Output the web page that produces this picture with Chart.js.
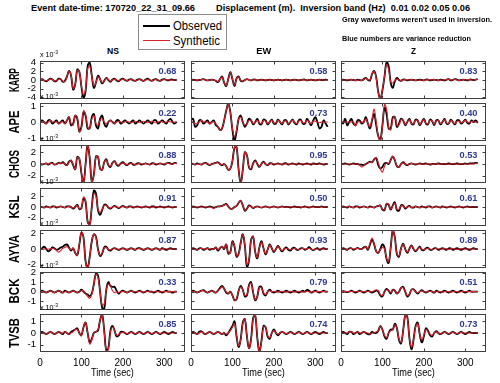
<!DOCTYPE html>
<html>
<head>
<meta charset="utf-8">
<script src="https://cdn.jsdelivr.net/npm/chart.js@4.4.1/dist/chart.umd.min.js"></script>
<style>
  html, body { margin: 0; padding: 0; background: #fff; }
  #fig { position: relative; width: 500px; height: 383px; overflow: hidden;
         font-family: 'Liberation Sans', Arial, sans-serif; color: #000; }
  #fig canvas { position: absolute; }
  .txt { position: absolute; white-space: nowrap; line-height: 1; }
  .txt sup { font-size: 70%; vertical-align: 0.45em; line-height: 0; }
</style>
</head>
<body>
<div id="fig"></div>
<script>
// ---- data (displacement, x 10^-3 m) ----
const timeSec = [0,5,10,15,20,25,30,35,40,45,50,55,60,65,70,75,80,85,90,95,100,105,110,115,120,125,130,135,140,145,150,155,160,165,170,175,180,185,190,195,200,205,210,215,220,225,230,235,240,245,250,255,260,265,270,275,280,285,290,295,300,305,310,315,320,325,330];
const timeTicks = [0, 100, 200, 300];
const stations = ['KARP', 'APE', 'CHOS', 'KSL', 'AYVA', 'BCK', 'TVSB'];
const components = ['NS', 'EW', 'Z'];
const varianceReduction = [
  [0.68, 0.58, 0.83], [0.22, 0.73, 0.40], [0.88, 0.95, 0.53], [0.91, 0.50, 0.61],
  [0.87, 0.93, 0.89], [0.33, 0.79, 0.51], [0.85, 0.74, 0.73]
];
const yTickValues = [[-4,-2,0,2,4], [-1,0,1], [-2,0,2], [-2,0,2], [-2,0,2], [-1,0,1,2], [-1,0,1]];
const yRange = [[-4.4,4.4], [-1.19,1.19], [-3.25,3.25], [-3.6,3.6], [-2.45,2.45], [-1.93,2.07], [-1.63,1.63]];

const karpNsObs = [0.1,0.2,-0.1,-0.3,0.0,0.3,0.1,-0.3,-0.2,0.3, 0.2,-0.4,-0.2,0.8,2.1,1.0,-2.2,-1.0,2.4,1.9, -1.6,-4.1,-2.6,3.2,4.0,1.0,-1.8,-0.6,1.0,0.2, -0.8,-0.2,0.5,0.0,-0.4,0.1,0.3,-0.1,-0.3,0.1, 0.3,0.0,-0.2,0.1,0.2,-0.1,-0.2,0.1,0.2,0.0, -0.2,0.1,0.3,0.0,-0.2,0.1,0.2,-0.1,-0.2,0.1, 0.2,0.0,-0.1,0.1,0.1,0.0,0.0];
const karpNsSyn = [0.1,0.1,-0.1,-0.2,0.0,0.2,0.1,-0.2,-0.2,0.2, 0.2,-0.3,-0.3,0.7,2.0,1.1,-2.0,-1.1,2.2,2.0, -1.4,-3.4,-2.2,2.6,3.2,0.9,-1.3,-0.6,0.7,0.2, -0.6,-0.2,0.4,0.1,-0.3,0.0,0.2,0.0,-0.2,0.0, 0.2,0.0,-0.1,0.0,0.1,0.0,-0.1,0.0,0.1,0.0, -0.1,0.0,0.1,0.0,-0.1,0.0,0.1,0.0,-0.1,0.0, 0.1,0.0,0.0,0.0,0.0,0.0,0.0];
const karpEwObs = [0.0,0.1,0.0,-0.1,0.0,0.1,0.2,0.0,-0.1,0.0, 0.1,0.0,-0.2,-0.5,0.2,0.8,-0.6,-1.4,0.3,1.8, 0.2,-1.4,0.4,0.8,-0.2,-0.3,0.0,0.2,0.0,-0.1, 0.1,0.1,-0.1,0.0,0.1,0.0,-0.1,0.0,0.1,0.0, -0.1,0.0,0.1,0.0,-0.1,0.0,0.1,0.0,-0.1,0.0, 0.1,0.0,-0.1,0.0,0.1,0.1,-0.1,0.0,0.1,0.0, -0.1,0.0,0.1,0.0,0.0,0.1,0.0];
const karpEwSyn = [0.0,0.0,0.0,-0.05,0.0,0.1,0.1,0.0,-0.1,0.0, 0.1,0.0,-0.1,-0.4,0.2,0.7,-0.5,-1.3,0.2,1.7, 0.3,-1.2,0.3,0.7,-0.1,-0.3,0.0,0.2,0.0,-0.1, 0.05,0.05,-0.05,0.0,0.05,0.0,-0.05,0.0,0.05,0.0, -0.05,0.0,0.05,0.0,-0.05,0.0,0.05,0.0,-0.05,0.0, 0.05,0.0,-0.05,0.0,0.05,0.0,-0.05,0.0,0.05,0.0, -0.05,0.0,0.05,0.0,0.0,0.0,0.0];
const karpZObs = [0.0,0.1,0.0,-0.1,0.0,0.1,0.0,-0.1,0.1,0.0, -0.1,0.2,0.5,0.0,-0.1,1.4,2.1,0.6,-2.8,-4.3, -2.4,0.8,4.1,3.2,-0.6,-1.8,-0.3,0.5,0.0,-0.2, 0.1,0.1,-0.1,0.0,0.1,0.0,-0.1,0.0,0.1,0.0, -0.1,0.1,0.1,-0.1,0.0,0.1,0.0,-0.1,0.1,0.0, -0.1,0.1,0.2,-0.1,0.0,0.2,0.1,-0.1,0.0,0.1, 0.0,-0.1,0.1,0.1,0.0,0.1,0.2];
const karpZSyn = [0.0,0.0,0.0,0.0,0.0,0.1,0.0,-0.1,0.0,0.0, -0.1,0.1,0.4,0.1,0.0,1.5,2.0,0.4,-3.0,-4.2, -2.2,0.9,3.6,2.4,-0.4,-0.7,-0.1,0.2,0.0,-0.1, 0.0,0.1,0.0,0.0,0.1,0.0,-0.1,0.0,0.0,0.0, -0.1,0.0,0.1,0.0,0.0,0.1,0.0,-0.1,0.0,0.0, 0.0,0.1,0.1,0.0,0.0,0.1,0.0,-0.1,0.0,0.1, 0.0,0.0,0.1,0.0,0.0,0.1,0.1];

const apeNsObs = [0.0,0.1,0.0,-0.1,0.1,0.1,-0.1,0.0,0.1,-0.1, 0.0,0.1,-0.1,0.1,0.3,-0.2,-0.1,0.4,0.2,-0.6, -0.3,0.6,0.4,-0.4,-0.4,0.3,0.5,-0.2,-0.4,0.2, 0.4,-0.1,-0.3,0.0,0.1,0.0,-0.1,0.1,0.1,-0.1, 0.0,0.1,0.0,-0.1,0.0,0.1,-0.1,0.0,0.1,0.0, -0.1,0.0,0.1,0.0,-0.1,0.1,0.1,-0.1,0.0,0.1, 0.0,-0.1,0.1,0.2,0.0,-0.1,0.0];
const apeNsSyn = [0.0,0.0,0.0,-0.1,0.0,0.1,0.0,0.0,0.0,-0.1, 0.0,0.0,-0.1,0.1,0.3,-0.1,-0.2,0.4,0.3,-0.6, -0.4,0.7,0.5,-0.3,-0.4,0.2,0.4,-0.1,-0.2,0.1, 0.2,0.0,-0.1,0.0,0.1,0.0,-0.1,0.0,0.05,0.0, -0.05,0.0,0.05,0.0,-0.05,0.0,0.05,0.0,-0.05,0.0, 0.05,0.0,-0.05,0.0,0.05,0.0,-0.05,0.0,0.05,0.0, -0.05,0.0,0.05,0.0,0.0,0.0,0.0];
const apeEwObs = [0.1,0.2,-0.3,-0.2,0.1,0.1,-0.1,0.0,0.1,-0.1, 0.0,0.1,-0.2,-0.3,-0.5,-0.4,0.1,0.7,1.15,0.6, -0.5,-1.15,-0.6,0.2,0.4,0.0,-0.3,-0.1,0.2,0.1, -0.15,0.0,0.2,-0.1,-0.15,0.15,0.1,-0.15,0.0,0.15, -0.1,-0.1,0.15,0.0,-0.15,0.1,0.1,-0.15,0.0,0.15, -0.05,-0.15,0.1,0.15,-0.1,-0.1,0.2,0.0,-0.2,0.1, 0.3,0.0,-0.4,-0.3,0.1,-0.1,-0.3];
const apeEwSyn = [0.0,0.0,-0.1,-0.1,0.0,0.1,0.0,0.0,0.0,-0.1, 0.0,0.0,-0.1,-0.3,-0.5,-0.4,0.1,0.7,1.1,0.6, -0.4,-0.9,-0.5,0.2,0.3,0.0,-0.2,-0.1,0.1,0.1, -0.1,0.0,0.1,-0.05,-0.1,0.1,0.05,-0.1,0.0,0.1, -0.05,-0.05,0.1,0.0,-0.1,0.05,0.05,-0.1,0.0,0.1, 0.0,-0.1,0.05,0.1,-0.05,-0.05,0.1,0.0,-0.1,0.05, 0.05,0.0,-0.05,0.0,0.0,0.0,0.0];
const apeZObs = [0.1,-0.1,0.2,-0.2,0.0,0.2,-0.1,-0.2,0.1,0.1, -0.1,0.0,0.3,-0.1,-0.4,0.1,0.5,-0.2,-0.9,-1.1, -0.2,0.9,0.5,-0.4,-0.4,0.3,0.3,-0.3,-0.1,0.2, 0.1,-0.2,0.0,0.2,-0.1,-0.15,0.15,0.1,-0.2,0.0, 0.2,-0.1,-0.15,0.15,0.05,-0.2,0.1,0.1,-0.15,0.0, 0.2,-0.1,-0.1,0.15,0.0,-0.15,0.1,0.1,-0.1,0.0, 0.15,-0.05,-0.1,0.1,0.0,0.1,-0.05];
const apeZSyn = [0.0,0.0,0.0,0.0,0.0,0.0,0.0,-0.25,0.0,0.0, 0.0,0.0,0.2,-0.1,-0.3,0.2,0.8,0.0,-0.9,-1.15, -0.3,1.1,0.8,-0.3,-0.5,0.2,0.35,-0.2,-0.2,0.15, 0.1,-0.15,0.0,0.15,-0.1,-0.1,0.1,0.1,-0.15,0.0, 0.15,-0.1,-0.1,0.1,0.05,-0.15,0.05,0.1,-0.1,0.0, 0.15,-0.05,-0.1,0.1,0.0,-0.1,0.05,0.05,-0.05,0.0, 0.1,0.0,-0.05,0.05,0.0,0.0,0.0];

const chosNsObs = [0.1,-0.1,0.0,0.1,-0.1,0.1,0.2,-0.1,0.0,0.2, 0.1,0.3,0.0,-0.2,0.4,0.6,-0.2,-0.9,1.2,0.9, -1.6,-3.2,0.0,3.3,1.0,-3.0,-1.8,1.3,1.2,-0.8, -1.0,0.3,0.8,-0.2,-0.5,0.2,0.5,-0.1,-0.3,0.1, 0.3,0.0,-0.2,0.1,0.2,-0.1,-0.1,0.1,0.1,-0.1, 0.0,0.1,0.0,-0.1,0.1,0.1,-0.1,0.0,0.1,0.0, -0.1,0.1,0.2,0.1,0.0,0.2,0.1];
const chosNsSyn = [0.0,0.0,0.0,0.1,0.0,0.1,0.1,-0.1,0.0,0.1, 0.1,0.2,0.0,-0.2,0.3,0.6,-0.1,-0.9,1.1,1.0, -1.5,-3.2,-0.2,3.3,1.1,-3.0,-1.9,1.2,1.3,-0.7, -1.0,0.2,0.7,-0.1,-0.4,0.1,0.4,0.0,-0.2,0.0, 0.2,0.0,-0.1,0.0,0.1,0.0,-0.1,0.0,0.1,0.0, 0.0,0.1,0.0,-0.1,0.0,0.1,0.0,0.0,0.1,0.0, 0.0,0.1,0.1,0.0,0.0,0.1,0.1];
const chosEwObs = [0.1,0.0,-0.1,0.1,0.0,-0.1,0.1,0.2,0.0,-0.2, 0.0,0.1,0.2,0.3,0.0,-0.2,0.0,-0.4,-1.0,-0.8, 0.5,2.8,2.9,-1.0,-3.3,-1.0,2.0,1.5,-0.6,-0.9, 0.1,0.6,0.0,-0.5,0.0,0.4,0.0,-0.2,0.1,0.1, -0.1,0.0,0.1,0.0,-0.1,0.1,0.1,-0.1,0.0,0.1, 0.0,-0.1,0.1,0.0,-0.1,0.0,0.1,0.0,-0.1,0.1, 0.0,0.0,0.1,0.0,-0.1,0.0,0.0];
const chosEwSyn = [0.0,0.0,-0.1,0.0,0.0,-0.1,0.1,0.1,0.0,-0.1, 0.0,0.1,0.2,0.2,0.0,-0.1,0.0,-0.4,-1.0,-0.8, 0.5,2.9,2.9,-1.1,-3.3,-1.0,2.0,1.5,-0.5,-0.8, 0.1,0.5,0.0,-0.4,0.0,0.3,0.0,-0.1,0.0,0.1, 0.0,0.0,0.05,0.0,-0.05,0.0,0.05,0.0,-0.05,0.0, 0.05,0.0,-0.05,0.0,0.05,0.0,-0.05,0.0,0.05,0.0, 0.0,0.0,0.0,0.0,0.0,0.0,0.0];
const chosZObs = [0.0,0.0,0.1,0.0,-0.1,0.0,0.1,0.0,0.0,-0.1, -0.1,-0.2,0.0,0.2,0.4,0.3,0.8,1.0,-0.2,-0.8, -0.5,0.1,0.2,0.0,0.7,1.3,0.6,-0.4,-0.5,0.0, 0.3,0.0,-0.2,0.0,0.1,0.0,-0.1,0.0,0.1,0.0, 0.0,0.1,0.0,-0.1,0.0,0.0,0.0,0.1,0.0,0.0, 0.0,0.0,0.1,0.0,0.0,0.0,0.1,0.0,0.0,0.0, 0.1,0.0,0.1,0.1,0.1,0.2,0.2];
const chosZSyn = [0.0,0.0,0.0,0.0,0.0,0.0,0.0,0.0,0.0,-0.2, -0.5,-0.3,0.1,0.2,0.3,0.3,0.7,1.1,0.2,-0.8, -1.4,-0.4,0.2,0.1,0.7,1.3,0.7,-0.4,-0.5,0.0, 0.2,0.0,-0.1,0.0,0.1,0.0,0.0,0.0,0.05,0.0, -0.05,0.0,0.05,0.0,-0.05,0.0,0.05,0.0,-0.05,0.0, 0.05,0.0,-0.05,0.0,0.05,0.0,-0.05,0.0,0.05,0.0, 0.0,0.0,0.0,0.0,0.0,0.1,0.1];

const kslNsObs = [0.1,0.0,-0.1,0.1,0.0,-0.1,0.1,0.1,-0.1,0.0, 0.1,0.0,-0.1,0.1,0.1,0.0,-0.3,0.0,0.4,-0.4, -0.2,1.6,1.0,-2.8,-3.3,0.0,3.1,2.6,-0.6,-1.5, -0.6,0.4,0.4,-0.1,-0.3,0.0,0.2,0.0,-0.2,0.0, 0.2,0.0,-0.1,0.1,0.1,-0.1,0.0,0.1,0.0,-0.1, 0.0,0.1,0.0,-0.1,0.1,0.1,-0.1,0.0,0.1,0.0, -0.1,0.0,0.1,0.0,-0.1,0.0,0.0];
const kslNsSyn = [0.0,0.0,-0.1,0.0,0.0,-0.1,0.0,0.1,0.0,0.0, 0.1,0.0,-0.1,0.0,0.1,0.0,-0.2,0.0,0.3,-0.3, -0.1,1.9,1.2,-2.8,-3.4,-0.2,2.5,2.1,-0.4,-1.0, -0.4,0.3,0.3,-0.1,-0.2,0.0,0.1,0.0,-0.1,0.0, 0.1,0.0,-0.1,0.0,0.1,0.0,-0.05,0.0,0.05,0.0, -0.05,0.0,0.05,0.0,-0.05,0.0,0.05,0.0,-0.05,0.0, 0.05,0.0,-0.05,0.0,0.0,0.0,0.0];
const kslEwObs = [0.0,0.1,0.0,-0.1,0.0,0.1,0.0,-0.1,0.0,0.1, 0.0,-0.1,0.0,0.1,0.1,0.2,0.4,0.6,0.1,-0.3, -0.3,0.0,0.2,0.8,1.2,0.3,-0.7,-0.3,0.3,0.1, -0.2,0.0,0.1,0.0,-0.1,0.0,0.1,0.0,-0.1,0.0, 0.1,0.0,-0.1,0.0,0.1,0.0,0.0,0.0,-0.1,0.0, 0.1,0.0,0.0,-0.1,0.0,0.1,0.0,-0.1,0.0,0.1, 0.0,0.0,0.0,0.1,0.0,0.0,0.0];
const kslEwSyn = [0.0,0.0,0.0,0.0,0.0,0.0,0.0,0.0,0.0,0.0, -0.1,-0.3,0.0,0.1,0.1,0.2,0.4,0.5,0.1,-0.3, -0.3,0.0,0.2,0.8,1.2,0.3,-0.6,-0.3,0.2,0.1, -0.1,0.0,0.1,0.0,-0.1,0.0,0.05,0.0,-0.05,0.0, 0.05,0.0,-0.05,0.0,0.05,0.0,-0.05,0.0,0.05,0.0, -0.05,0.0,0.05,0.0,-0.05,0.0,0.05,0.0,-0.05,0.0, 0.0,0.0,0.0,0.0,0.0,0.0,0.0];
const kslZObs = [0.0,0.1,0.0,-0.1,0.1,0.0,-0.1,0.1,0.1,-0.1, 0.0,0.1,0.0,-0.1,0.1,0.0,-0.1,0.1,0.2,0.3, -0.5,-0.6,0.6,0.4,-0.5,0.3,0.9,-0.6,-0.7,0.3, 0.3,-0.3,0.0,0.2,-0.1,-0.1,0.1,0.0,-0.1,0.1, 0.0,-0.1,0.1,0.1,-0.1,0.0,0.1,0.0,-0.1,0.1, 0.0,-0.1,0.0,0.1,0.0,-0.1,0.0,0.1,0.0,-0.1, 0.0,0.1,0.0,0.0,0.0,0.0,0.0];
const kslZSyn = [0.0,0.0,0.0,0.0,0.1,0.0,-0.1,0.0,0.1,0.0, 0.0,0.1,0.0,-0.1,0.0,0.0,-0.1,0.1,0.2,0.3, -0.4,-0.5,0.6,0.5,-0.4,0.2,0.7,-0.4,-0.4,0.2, 0.2,-0.2,0.0,0.1,-0.1,0.0,0.1,0.0,-0.1,0.0, 0.0,0.0,0.1,0.0,-0.1,0.0,0.05,0.0,-0.05,0.0, 0.05,0.0,-0.05,0.0,0.05,0.0,-0.05,0.0,0.05,0.0, 0.0,0.0,0.0,0.0,0.0,0.0,0.0];

const ayvaNsObs = [0.0,0.1,0.3,0.0,-0.3,-0.1,0.2,0.1,-0.1,0.0, 0.2,0.3,0.5,0.6,0.2,-0.2,0.1,-0.5,-0.8,0.6, 2.1,1.5,-1.6,-2.45,-1.0,1.0,1.9,1.6,0.0,-0.9, -0.6,0.2,0.3,-0.1,-0.2,0.0,0.1,0.0,-0.1,0.0, 0.1,0.0,-0.1,0.0,0.1,0.0,-0.1,0.1,0.1,0.0, -0.1,0.0,0.1,0.0,-0.1,0.0,0.1,0.0,-0.1,0.1, 0.0,-0.1,0.0,0.1,0.0,0.0,0.0];
const ayvaNsSyn = [0.0,0.0,0.0,0.0,0.0,0.0,0.1,0.0,-0.2,-0.4, -0.2,0.1,0.2,0.3,0.1,-0.1,0.1,-0.5,-0.8,0.7, 2.2,1.5,-1.7,-2.45,-1.1,1.0,1.9,1.5,-0.1,-0.8, -0.5,0.1,0.2,-0.1,-0.1,0.0,0.1,0.0,-0.1,0.0, 0.05,0.0,-0.05,0.0,0.05,0.0,-0.05,0.0,0.05,0.0, -0.05,0.0,0.05,0.0,-0.05,0.0,0.05,0.0,-0.05,0.0, 0.05,0.0,0.0,0.0,0.0,0.0,0.0];
const ayvaEwObs = [0.0,0.1,0.0,-0.1,0.1,0.1,-0.1,0.0,0.1,-0.1, 0.0,0.0,0.2,-0.2,0.1,0.3,0.0,0.6,-0.6,-0.4, 1.0,0.3,-1.0,-0.6,0.8,1.9,0.4,-2.3,-1.5,1.2, 1.6,-0.4,-1.2,0.2,1.0,0.1,-0.7,-0.1,0.6,0.1, -0.4,0.0,0.4,0.0,-0.3,0.0,0.2,-0.1,-0.2,0.1, 0.15,-0.1,-0.1,0.1,0.1,-0.1,0.0,0.25,0.0,-0.15, 0.0,0.1,-0.1,0.0,0.1,0.0,0.0];
const ayvaEwSyn = [0.0,0.0,0.0,-0.1,0.0,0.1,0.0,0.0,0.1,0.0, 0.0,0.0,0.2,-0.1,0.1,0.3,0.1,0.6,-0.5,-0.5, 0.9,0.4,-0.9,-0.7,0.7,1.9,0.5,-2.0,-1.4,1.1, 1.6,-0.3,-1.1,0.1,0.9,0.1,-0.6,-0.1,0.5,0.1, -0.3,0.0,0.3,0.0,-0.2,0.0,0.1,0.0,-0.1,0.0, 0.1,0.0,-0.1,0.0,0.1,0.0,0.0,0.1,0.0,-0.1, 0.0,0.0,0.0,0.0,0.0,0.0,0.0];
const ayvaZObs = [0.0,0.1,0.0,-0.1,0.1,0.1,-0.1,0.0,0.15,0.0, 0.0,0.2,0.3,-0.1,0.6,1.2,0.6,-0.3,-0.5,0.0, 0.6,0.2,-1.3,-1.8,0.2,2.4,1.5,-0.7,-1.0,0.1, 0.7,0.0,-0.5,0.0,0.45,0.0,-0.3,0.0,0.3,-0.1, -0.15,0.1,0.15,-0.1,-0.1,0.1,0.1,-0.1,0.0,0.1, 0.0,-0.1,0.1,0.1,-0.1,0.0,0.1,0.0,-0.1,0.0, 0.1,0.0,-0.1,0.0,0.1,0.0,0.0];
const ayvaZSyn = [0.0,0.0,0.0,-0.1,0.0,0.1,0.0,0.0,0.1,0.0, 0.0,0.1,0.3,0.0,0.7,1.4,0.7,-0.3,-0.5,-0.1, 0.2,0.0,-1.2,-1.6,0.2,2.4,1.4,-0.6,-0.9,0.1, 0.6,0.0,-0.4,0.0,0.4,0.0,-0.2,0.0,0.2,0.0, -0.1,0.0,0.1,0.0,-0.1,0.0,0.1,0.0,0.0,0.0, 0.05,0.0,-0.05,0.0,0.05,0.0,-0.05,0.0,0.05,0.0, 0.0,0.0,0.0,0.0,0.0,0.0,0.0];

const bckNsObs = [0.0,0.1,0.0,-0.1,0.0,0.1,0.0,-0.1,0.0,0.1, 0.0,-0.1,0.1,0.0,-0.1,0.0,0.1,0.0,-0.1,0.0, 0.2,0.0,-0.2,-0.3,-0.5,-0.2,0.8,1.9,1.7,0.0, -1.7,-1.8,0.2,1.0,0.6,0.5,0.5,0.1,-0.2,0.0, 0.1,0.0,-0.1,0.0,0.1,0.0,-0.1,0.0,0.1,0.0, -0.1,0.0,0.1,0.0,0.0,-0.1,0.0,0.1,0.0,-0.1, 0.0,0.1,0.0,0.0,-0.1,0.0,0.0];
const bckNsSyn = [0.0,0.0,0.0,-0.1,0.0,0.1,0.0,-0.1,0.0,0.1, 0.0,-0.1,0.0,0.0,-0.1,0.0,0.1,0.0,-0.1,0.0, 0.1,0.1,-0.2,-0.5,-0.7,-0.3,0.7,1.8,1.5,0.0, -1.4,-1.3,0.2,0.8,0.6,0.1,-0.1,0.0,-0.1,0.0, 0.0,0.0,-0.1,0.0,0.1,0.0,0.0,0.0,0.05,0.0, -0.05,0.0,0.05,0.0,-0.05,0.0,0.05,0.0,-0.05,0.0, 0.0,0.0,0.0,0.0,0.0,0.0,0.0];
const bckEwObs = [0.0,0.1,0.0,-0.1,0.0,0.1,0.15,0.0,-0.1,0.0, 0.1,0.0,-0.1,0.1,0.4,0.6,0.3,-0.1,-0.2,0.0, -0.4,-0.9,-0.8,0.1,0.6,0.2,-0.5,-0.4,0.7,1.0, -0.1,-0.9,-0.5,0.5,0.5,-0.2,-0.4,0.0,0.2,0.0, -0.1,0.0,0.1,0.0,-0.1,0.0,0.1,0.0,-0.1,0.0, 0.1,0.0,-0.1,0.0,0.1,0.0,0.2,0.1,-0.1,0.0, 0.1,0.0,-0.1,0.0,0.1,0.0,0.0];
const bckEwSyn = [0.0,0.0,0.0,-0.1,0.0,0.1,0.1,0.0,-0.1,0.0, 0.1,0.0,-0.1,0.1,0.3,0.5,0.3,0.0,-0.2,0.0, -0.4,-0.9,-0.7,0.1,0.5,0.2,-0.4,-0.3,0.6,0.9, 0.0,-0.8,-0.5,0.4,0.4,-0.1,-0.3,0.0,0.1,0.0, 0.05,0.0,-0.05,0.0,0.05,0.0,-0.05,0.0,0.05,0.0, -0.05,0.0,0.05,0.0,-0.05,0.0,0.05,0.0,-0.05,0.0, 0.0,0.0,0.0,0.0,0.0,0.0,0.0];
const bckZObs = [0.0,0.05,0.0,-0.05,0.0,0.1,0.0,-0.1,0.0,0.1, 0.0,-0.1,0.0,0.1,0.0,-0.1,0.0,0.1,0.0,-0.4, -0.5,0.0,0.3,0.1,-0.2,0.2,0.1,-0.2,0.0,0.4, 0.5,0.0,-0.5,-0.3,0.2,0.25,0.0,-0.2,0.0,0.15, 0.0,-0.1,0.0,0.1,0.0,-0.1,0.1,0.0,-0.1,0.0, 0.1,0.0,-0.1,0.0,0.1,0.0,-0.1,0.0,0.1,0.0, -0.1,0.0,0.1,0.0,0.0,0.0,0.0];
const bckZSyn = [0.0,0.0,0.0,0.0,0.0,0.05,0.0,0.0,0.0,0.05, 0.0,0.0,0.0,0.05,0.0,0.0,0.1,0.2,0.1,-0.3, -0.4,0.0,0.2,0.1,-0.1,0.2,0.1,-0.2,0.0,0.4, 0.4,0.0,-0.4,-0.3,0.2,0.2,0.0,-0.1,0.0,0.1, 0.0,-0.05,0.0,0.05,0.0,-0.05,0.0,0.05,0.0,-0.05, 0.0,0.05,0.0,-0.05,0.0,0.05,0.0,-0.05,0.0,0.05, 0.0,0.0,0.0,0.0,0.0,0.0,0.0];

const tvsbNsObs = [0.0,0.1,0.0,-0.1,0.0,0.1,0.0,-0.1,0.0,0.1, 0.0,-0.1,0.1,0.0,-0.1,0.1,0.2,0.3,0.4,0.0, -0.2,0.5,0.9,0.0,-0.8,-0.5,0.0,0.1,0.2,1.1, 1.6,0.2,-1.5,-1.3,0.2,0.6,0.2,-0.3,-0.2,0.1, 0.1,0.0,-0.1,0.0,0.1,0.0,-0.1,0.0,0.1,0.0, -0.1,0.0,0.1,0.0,-0.1,0.0,0.1,0.0,-0.1,0.0, 0.1,0.0,-0.1,0.0,0.1,0.0,0.0];
const tvsbNsSyn = [0.0,0.0,0.0,-0.1,0.0,0.1,0.0,-0.1,0.0,0.1, 0.0,0.0,0.1,0.0,-0.1,0.0,0.1,0.3,0.3,0.0, -0.2,0.5,0.9,0.0,-0.95,-0.6,0.0,0.1,0.3,1.1, 1.5,0.1,-1.6,-1.4,0.1,0.5,0.2,-0.2,-0.1,0.0, 0.05,0.0,-0.05,0.0,0.05,0.0,-0.05,0.0,0.05,0.0, -0.05,0.0,0.05,0.0,-0.05,0.0,0.05,0.0,-0.05,0.0, 0.0,0.0,0.0,0.0,0.0,0.0,0.0];
const tvsbEwObs = [0.0,0.1,0.0,-0.1,0.1,0.15,0.0,-0.1,0.0,0.1, 0.0,-0.1,0.0,0.1,0.0,-0.1,0.0,-0.2,0.0,0.3, 0.6,1.0,-0.3,-1.2,-0.5,0.9,1.2,-0.3,-1.3,-0.5, 1.3,1.5,-0.4,-1.6,-0.7,0.6,0.5,-0.3,-0.5,0.0, 0.3,0.0,-0.2,0.0,0.1,0.0,-0.1,0.0,0.1,0.0, -0.1,0.0,0.1,0.0,-0.1,0.0,0.1,0.0,-0.1,0.0, 0.1,0.0,-0.1,0.0,0.1,0.0,0.0];
const tvsbEwSyn = [0.0,0.0,0.0,-0.1,0.0,0.1,0.0,-0.1,0.0,0.1, 0.0,-0.1,0.0,0.1,0.0,-0.1,0.0,-0.1,0.0,0.2, 0.5,0.8,-0.2,-1.1,-0.6,0.8,1.2,-0.2,-1.3,-0.6, 1.2,1.6,-0.3,-1.6,-0.8,0.5,0.5,-0.2,-0.4,0.0, 0.2,0.0,-0.1,0.0,0.1,0.0,-0.05,0.0,0.05,0.0, -0.05,0.0,0.05,0.0,-0.05,0.0,0.05,0.0,-0.05,0.0, 0.0,0.0,0.0,0.0,0.0,0.0,0.0];
const tvsbZObs = [0.0,0.1,0.0,-0.1,0.1,0.1,-0.1,0.0,0.1,-0.1, 0.0,0.1,0.0,-0.1,-0.1,0.1,0.0,0.0,0.2,0.6, 0.3,-0.3,-0.5,0.0,0.3,0.3,0.8,0.4,-0.6,-0.9, 0.2,1.5,1.4,-0.4,-1.4,-0.6,0.6,0.9,-0.1,-0.8, -0.3,0.4,0.2,-0.2,-0.3,0.0,0.15,0.0,-0.1,0.0, 0.1,0.0,-0.1,0.0,0.1,0.0,-0.1,0.0,0.1,0.0, -0.1,0.0,0.1,0.0,0.0,0.0,0.0];
const tvsbZSyn = [0.0,0.0,0.0,0.0,0.1,0.1,0.0,0.0,0.1,0.0, 0.0,0.1,0.0,0.0,-0.1,0.0,0.0,0.1,0.2,0.6, 0.3,-0.2,-0.4,0.0,0.2,0.3,0.7,0.4,-0.5,-0.8, 0.2,1.5,1.3,-0.4,-1.2,-0.6,0.5,0.8,-0.1,-0.6, -0.2,0.3,0.1,-0.1,-0.2,0.0,0.1,0.0,-0.05,0.0, 0.05,0.0,-0.05,0.0,0.05,0.0,-0.05,0.0,0.05,0.0, 0.0,0.0,0.0,0.0,0.0,0.0,0.0];

const observed = [
  [karpNsObs, karpEwObs, karpZObs], [apeNsObs, apeEwObs, apeZObs], [chosNsObs, chosEwObs, chosZObs],
  [kslNsObs, kslEwObs, kslZObs], [ayvaNsObs, ayvaEwObs, ayvaZObs], [bckNsObs, bckEwObs, bckZObs],
  [tvsbNsObs, tvsbEwObs, tvsbZObs]
];
const synthetic = [
  [karpNsSyn, karpEwSyn, karpZSyn], [apeNsSyn, apeEwSyn, apeZSyn], [chosNsSyn, chosEwSyn, chosZSyn],
  [kslNsSyn, kslEwSyn, kslZSyn], [ayvaNsSyn, ayvaEwSyn, ayvaZSyn], [bckNsSyn, bckEwSyn, bckZSyn],
  [tvsbNsSyn, tvsbEwSyn, tvsbZSyn]
];

// ---- layout ----
const FONT = "'Liberation Sans', Arial, sans-serif";
const colLeft = [40, 191, 341];
const rowTop = [61, 103, 145, 188, 230, 272, 314];
const panelW = 145, panelH = 38;
const stationLabelLen = [24, 23, 28, 23, 28, 25, 30];
const fig = document.getElementById('fig');

// box with inward tick marks, like the original figure
const panelFrame = {
  id: 'panelFrame',
  afterDatasetsDraw(chart) {
    const { ctx, chartArea: a, scales } = chart;
    const L = Math.round(a.left) + 0.5, R = Math.round(a.right) - 0.5;
    const T = Math.round(a.top) + 0.5, B = Math.round(a.bottom) - 0.5;
    ctx.save();
    ctx.strokeStyle = '#404040';
    ctx.lineWidth = 1;
    ctx.strokeRect(L, T, R - L, B - T);
    ctx.beginPath();
    scales.y.ticks.forEach(t => {
      const y = Math.round(scales.y.getPixelForValue(t.value)) + 0.5;
      ctx.moveTo(L, y); ctx.lineTo(L + 3, y);
      ctx.moveTo(R, y); ctx.lineTo(R - 3, y);
    });
    scales.x.ticks.forEach(t => {
      const x = Math.round(scales.x.getPixelForValue(t.value)) + 0.5;
      ctx.moveTo(x, B); ctx.lineTo(x, B - 3);
      ctx.moveTo(x, T); ctx.lineTo(x, T + 3);
    });
    ctx.stroke();
    ctx.restore();
  }
};

stations.forEach((sta, r) => {
  components.forEach((comp, c) => {
    const isLeft = c === 0;
    const isBottom = r === stations.length - 1;
    const padL = isLeft ? 40 : 3, padR = 3, padT = 3, padB = isBottom ? 17 : 3;
    const canvas = document.createElement('canvas');
    canvas.width = panelW + padL + padR;
    canvas.height = panelH + padT + padB;
    canvas.style.width = canvas.width + 'px';
    canvas.style.height = canvas.height + 'px';
    canvas.style.left = (colLeft[c] - padL) + 'px';
    canvas.style.top = (rowTop[r] - padT) + 'px';
    fig.appendChild(canvas);

    const obs = observed[r][c], syn = synthetic[r][c];
    new Chart(canvas, {
      type: 'line',
      data: {
        datasets: [
          { label: 'Observed', data: timeSec.map((t, i) => ({ x: t, y: obs[i] })),
            borderColor: '#000000', borderWidth: 1.8, order: 2 },
          { label: 'Synthetic', data: timeSec.map((t, i) => ({ x: t, y: syn[i] })),
            borderColor: '#d8222b', borderWidth: 1.1, order: 1 }
        ]
      },
      options: {
        responsive: false,
        animation: false,
        events: [],
        layout: { padding: { left: 0, right: padR, top: padT, bottom: 0 } },
        elements: { point: { radius: 0 }, line: { tension: 0.4, fill: false } },
        plugins: { legend: { display: false }, tooltip: { enabled: false } },
        scales: {
          x: {
            type: 'linear', min: 0, max: 350,
            grid: { display: false, drawTicks: false }, border: { display: false },
            afterBuildTicks: s => { s.ticks = timeTicks.map(v => ({ value: v })); },
            afterFit: s => { s.height = padB; s.paddingLeft = 0; s.paddingRight = 0; },
            ticks: { display: isBottom, autoSkip: false, maxRotation: 0, padding: 5,
                     color: '#000', font: { family: FONT, size: 10 } }
          },
          y: {
            min: yRange[r][0], max: yRange[r][1],
            grid: { display: false, drawTicks: false }, border: { display: false },
            afterBuildTicks: s => { s.ticks = yTickValues[r].map(v => ({ value: v })); },
            afterFit: s => { s.width = padL; s.paddingTop = 0; s.paddingBottom = 0; },
            ticks: { display: isLeft, autoSkip: false, padding: 4,
                     color: '#000', font: { family: FONT, size: 9.5 } }
          }
        }
      },
      plugins: [panelFrame]
    });
  });
});

// ---- text ----
function addText(html, x, y, o) {
  const el = document.createElement('div');
  el.className = 'txt';
  el.innerHTML = html;
  el.style.fontSize = o.size + 'px';
  el.style.fontWeight = o.bold ? 'bold' : 'normal';
  if (o.color) el.style.color = o.color;
  fig.appendChild(el);
  const box = el.getBoundingClientRect();
  const ax = o.align === 'center' ? 0.5 : o.align === 'right' ? 1 : 0;
  const sx = o.w ? o.w / box.width : 1;
  el.style.left = (x - ax * box.width) + 'px';
  el.style.top = (y - box.height / 2) + 'px';
  el.style.transformOrigin = (ax * 100) + '% 50%';
  el.style.transform = (o.rotate ? 'rotate(-90deg) ' : '') + 'scaleX(' + sx + ')';
  return el;
}

addText('Event date-time: 170720_22_31_09.66', 31, 7.5, { size: 9.5, bold: true, w: 164 });
addText('Displacement (m).&nbsp; Inversion band (Hz)&nbsp; 0.01 0.02 0.05 0.06', 216, 7.5, { size: 9.5, bold: true, w: 254 });
addText("Gray waveforms weren't used in inversion.", 342, 19.5, { size: 7, bold: true, w: 150 });
addText('Blue numbers are variance reduction', 342, 38.5, { size: 7, bold: true, w: 129 });

// legend box
const legend = document.createElement('div');
legend.style.cssText = 'position:absolute;left:138px;top:14px;width:87px;height:34px;border:1px solid #8c8c8c;background:#fff;';
fig.appendChild(legend);
const legendItems = [
  { label: 'Observed', color: '#000000', y: 26, w: 49, lw: 1.6 },
  { label: 'Synthetic', color: '#d8222b', y: 40.5, w: 47, lw: 1.1 }
];
legendItems.forEach(it => {
  const ln = document.createElement('div');
  ln.style.cssText = `position:absolute;left:143px;top:${it.y - it.lw / 2}px;width:27px;height:${it.lw}px;background:${it.color};`;
  fig.appendChild(ln);
  addText(it.label, 173, it.y, { size: 12, w: it.w });
});

const colCenters = colLeft.map(l => l + panelW / 2);
const headerWidths = [12, 15, 5];
components.forEach((comp, c) => {
  addText(comp, colCenters[c], 51.7, { size: 8.5, bold: true, align: 'center', w: headerWidths[c] });
  addText('Time (sec)', colCenters[c], 372.5, { size: 10, align: 'center', w: 43 });
});

stations.forEach((sta, r) => {
  addText(sta, 14, rowTop[r] + panelH / 2, { size: 14, bold: true, align: 'center', rotate: true, w: stationLabelLen[r] });
  addText('x 10<sup>-3</sup>', 40, rowTop[r] - 6.5, { size: 8, w: 18 });
  components.forEach((comp, c) => {
    addText(varianceReduction[r][c].toFixed(2), colLeft[c] + panelW - 9, rowTop[r] + 9.5,
      { size: 9.5, bold: true, align: 'right', color: '#2f3c8e', w: 18 });
  });
});
</script>
</body>
</html>
